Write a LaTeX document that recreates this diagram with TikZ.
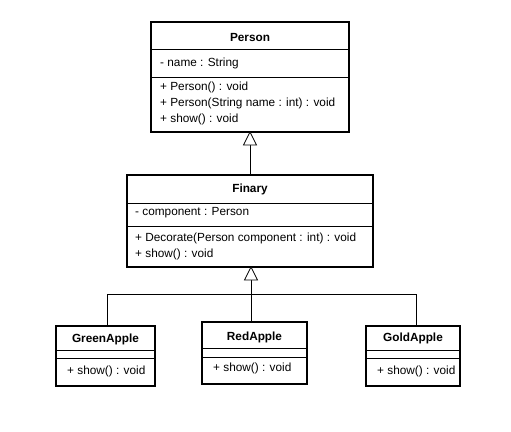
\documentclass[tikz,border=0pt]{standalone}
\usepackage{fontspec}
\setmainfont{Liberation Sans}
\begin{document}
\begin{tikzpicture}[x=1pt,y=-1pt,
  cls/.style={draw,line width=2pt,fill=white,inner sep=0pt,outer sep=0pt},
  sep/.style={line width=0.8pt},
  conn/.style={line width=0.8pt},
  ttl/.style={font=\fontsize{11.8}{13}\selectfont\bfseries,inner sep=0pt},
  mem/.style={font=\fontsize{11.8}{13}\selectfont,anchor=west,inner sep=0pt},
  tri/.style={draw,line width=0.8pt,fill=white}]
\useasboundingbox[fill=white] (0,0) rectangle (511,431);
% Person
\node[cls,minimum width=198pt,minimum height=110pt] (person) at (250,77) {};
\node[ttl] (personT) at (250,37) {Person};
\draw[sep] (151,49) -- (349,49);
\draw[sep] (151,77) -- (349,77);
\node[mem] (pa1) at (160,63) {- name : String};
\node[mem] (pm1) at (160,87) {+ Person() : void};
\node[mem] (pm2) at (160,103) {+ Person(String name : int) : void};
\node[mem] (pm3) at (160,119) {+ show() : void};
% Finary
\node[cls,minimum width=246pt,minimum height=92pt] (finary) at (250,221) {};
\node[ttl] (finT) at (250,189) {Finary};
\draw[sep] (127,203) -- (373,203);
\draw[sep] (127,226) -- (373,226);
\node[mem] (fa1) at (135,213) {- component : Person};
\node[mem] (fm1) at (135,238) {+ Decorate(Person component : int) : void};
\node[mem] (fm2) at (135,254) {+ show() : void};
% GreenApple
\node[cls,minimum width=99pt,minimum height=60pt] (green) at (105.5,356) {};
\node[ttl] (greenT) at (105.5,339) {GreenApple};
\draw[sep] (56,350) -- (155,350);
\draw[sep] (56,358) -- (155,358);
\node[mem] (gm1) at (67,371) {+ show() : void};
% RedApple
\node[cls,minimum width=105pt,minimum height=62pt] (red) at (254.5,353) {};
\node[ttl] (redT) at (254.5,337) {RedApple};
\draw[sep] (202,348) -- (307,348);
\draw[sep] (202,357) -- (307,357);
\node[mem] (rm1) at (213,368) {+ show() : void};
% GoldApple
\node[cls,minimum width=94pt,minimum height=60pt] (gold) at (413,356) {};
\node[ttl] (goldT) at (413,338) {GoldApple};
\draw[sep] (366,350) -- (460,350);
\draw[sep] (366,358) -- (460,358);
\node[mem] (om1) at (377,371) {+ show() : void};
% connectors
\coordinate (t1) at (250,145);
\draw[conn] (finary.north) -- (t1);
\draw[tri] (person.south) -- (243.5,145) -- (256.5,145) -- cycle;
\coordinate (t2) at (251,280);
\coordinate (hl) at (107,294);
\coordinate (hr) at (416,294);
\draw[conn] (t2) -- (251,322);
\draw[conn] (green.north -| hl) -- (hl) -- (hr) -- (gold.north -| hr);
\draw[tri] (251,267) -- (244.5,280) -- (257.5,280) -- cycle;
\end{tikzpicture}
\end{document}
